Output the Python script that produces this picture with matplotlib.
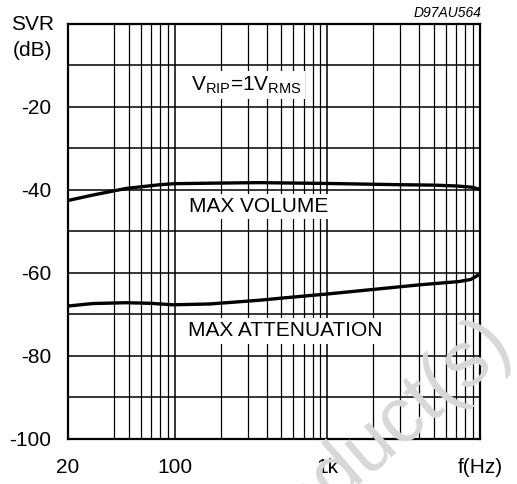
import numpy as np
import matplotlib.pyplot as plt
import matplotlib.ticker as ticker

plt.rcParams['font.family'] = ['Liberation Sans', 'DejaVu Sans']
plt.rcParams['mathtext.fontset'] = 'custom'
plt.rcParams['mathtext.rm'] = 'Liberation Sans'
plt.rcParams['mathtext.it'] = 'Liberation Sans:italic'

# ------------------------------------------------------------
# Data (frequency in Hz, SVR in dB)
# ------------------------------------------------------------
vol_freq = [20, 29, 48, 80, 100, 200, 360, 1000, 3000, 5000, 7000, 8800, 10000]
vol_svr = [-42.6, -41.3, -39.7, -38.8, -38.55, -38.4, -38.3, -38.5, -38.8,
           -38.9, -39.1, -39.4, -39.9]

att_freq = [20, 29, 48, 70, 97, 170, 360, 500, 1000, 2000, 4000, 7300, 8700, 10000]
att_svr = [-68.0, -67.4, -67.2, -67.35, -67.7, -67.5, -66.6, -66.1, -65.1,
           -64.0, -62.9, -62.1, -61.6, -60.3]

x_major = [20, 100, 1000, 10000]
x_labels = ['20', '100', '1k', 'f(Hz)']
x_minor = [40, 50, 60, 70, 80, 90,
           200, 300, 400, 500, 600, 700, 800, 900,
           2000, 3000, 4000, 5000, 6000, 7000, 8000, 9000]
y_ticks = [-100, -90, -80, -70, -60, -50, -40, -30, -20, -10, 0]
y_labels = ['-100', '', '-80', '', '-60', '', '-40', '', '-20', '', '']

FS = 15

fig = plt.figure(figsize=(5.17, 4.84), dpi=100)
ax = fig.add_axes([68 / 517, 45 / 484, 412 / 517, 415.5 / 484])

ax.set_xscale('log')
ax.set_xlim(20, 10000)
ax.set_ylim(-100, 0)

ax.xaxis.set_major_locator(ticker.FixedLocator(x_major))
ax.xaxis.set_major_formatter(ticker.FixedFormatter(x_labels))
ax.xaxis.set_minor_locator(ticker.FixedLocator(x_minor))
ax.xaxis.set_minor_formatter(ticker.NullFormatter())
ax.yaxis.set_major_locator(ticker.FixedLocator(y_ticks))
ax.yaxis.set_major_formatter(ticker.FixedFormatter(y_labels))

ax.tick_params(which='both', length=0)
ax.tick_params(axis='x', which='major', pad=14, labelsize=FS)
ax.tick_params(axis='y', which='major', pad=12, labelsize=FS)

ax.grid(True, which='major', color='black', linewidth=1.1)
ax.grid(True, which='minor', axis='x', color='black', linewidth=0.9)
ax.set_axisbelow(True)
for sp in ax.spines.values():
    sp.set_linewidth(1.6)

ax.plot(vol_freq, vol_svr, color='black', linewidth=2.4, zorder=3)
ax.plot(att_freq, att_svr, color='black', linewidth=2.4, zorder=3)

box = dict(boxstyle='square,pad=0.15', facecolor='white', edgecolor='none')
ax.text(0.434, 0.852, r'V$\mathregular{_{RIP}}$=1V$\mathregular{_{RMS}}$',
        transform=ax.transAxes, ha='center', va='center', fontsize=FS,
        bbox=box, zorder=4)
ax.text(0.462, 0.559, 'MAX VOLUME', transform=ax.transAxes,
        ha='center', va='center', fontsize=FS, bbox=box, zorder=4)
ax.text(0.527, 0.260, 'MAX ATTENUATION', transform=ax.transAxes,
        ha='center', va='center', fontsize=FS, bbox=box, zorder=4)

fig.text(33 / 517, 1 - 25 / 484, 'SVR', ha='center', va='center', fontsize=FS)
fig.text(33 / 517, 1 - 50 / 484, '(dB)', ha='center', va='center', fontsize=FS)
fig.text(482 / 517, 1 - 13 / 484, 'D97AU564', ha='right', va='center',
         fontsize=10, style='italic')

# faint watermark over the lower right corner (cut by the edge, as in the original)
fig.text(514 / 517, 1 - 346 / 484, 'Product(s)', ha='right', va='baseline',
         rotation=41, rotation_mode='anchor', fontsize=56, color='#d8d8d8',
         zorder=10)

fig.savefig('out.png', dpi=100)
